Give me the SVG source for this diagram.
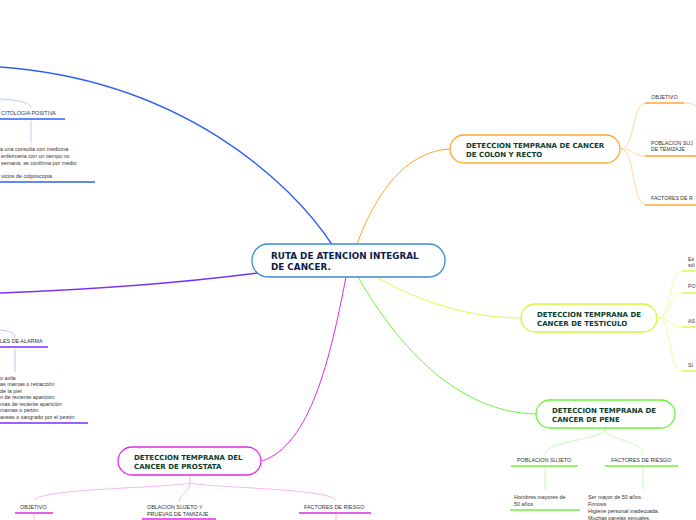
<svg xmlns="http://www.w3.org/2000/svg" width="696" height="520" viewBox="0 0 696 520">
<style>
.t{font-family:"Liberation Sans",Arial,sans-serif;font-size:5.4px;fill:#333}
.e{font-family:"Liberation Sans",Arial,sans-serif;font-size:5.2px;fill:#333}
.n{font-family:"DejaVu Sans",Verdana,sans-serif;font-size:7px;font-weight:bold;fill:#0b3d2c}
.c{font-family:"DejaVu Sans",Verdana,sans-serif;font-size:8.8px;font-weight:bold;fill:#0c1b4d}
.box{fill:#fff;stroke-width:1.3}
.l{fill:none}
</style>
<g id="connectors">
<path class="l" d="M333 246 C290 180 180 80 0 67" stroke="#2f5ff5" stroke-width="1.4"/>
<path class="l" d="M258 273 C180 283 80 290 0 293" stroke="#7a2ff5" stroke-width="1.4"/>
<path class="l" d="M357 244 C375 195 405 151 450 149" stroke="#ffa630" stroke-width="1"/>
<path class="l" d="M376 277 C420 302 470 318 521 318" stroke="#e4f84a" stroke-width="1"/>
<path class="l" d="M358 277 C400 350 460 413 537 414" stroke="#6ef23c" stroke-width="1"/>
<path class="l" d="M346 277 C330 360 310 445 262 461" stroke="#e229e8" stroke-width="1"/>
<g stroke="#ffcd85" stroke-width="0.8" fill="none">
<path d="M621 149 C635 149 632 103 646 103"/>
<path d="M621 149 C635 149 632 156 646 156"/>
<path d="M621 149 C635 149 632 205 646 205"/>
<path d="M684 103 C690 103 692 104 696 106"/>
</g>
<g stroke="#ffa630" stroke-width="1.3">
<line x1="645" y1="103" x2="684" y2="103"/>
<line x1="645" y1="156" x2="696" y2="156"/>
<line x1="645" y1="205" x2="696" y2="205"/>
</g>
<g stroke="#ecfb8a" stroke-width="0.8" fill="none">
<path d="M658 318 C672 318 668 271 682 271"/>
<path d="M658 318 C672 318 668 293 682 293"/>
<path d="M658 318 C672 318 668 327 682 327"/>
<path d="M658 318 C672 318 668 371 682 371"/>
</g>
<g stroke="#d6f53a" stroke-width="1.3">
<line x1="682" y1="271" x2="696" y2="271"/>
<line x1="682" y1="293" x2="696" y2="293"/>
<line x1="682" y1="327" x2="696" y2="327"/>
<line x1="682" y1="371" x2="696" y2="371"/>
</g>
<g stroke="#b6f7a0" stroke-width="0.8" fill="none">
<path d="M605 429 C605 440 545 440 545 455"/>
<path d="M605 429 C605 440 643 440 643 455"/>
<line x1="545" y1="467" x2="545" y2="490"/>
<line x1="643" y1="467" x2="643" y2="490"/>
</g>
<g stroke="#6ef23c" stroke-width="1.3">
<line x1="511" y1="466" x2="578" y2="466"/>
<line x1="605" y1="466" x2="678" y2="466"/>
<line x1="510" y1="510" x2="580" y2="510"/>
</g>
<g stroke="#f2a4f2" stroke-width="0.8" fill="none">
<path d="M190 476 L190 483 C170 488 45 488 34 500"/>
<path d="M190 483 C190 492 180 493 179 502"/>
<path d="M190 483 C210 488 325 488 336 500"/>
<line x1="34" y1="514" x2="34" y2="520"/>
<line x1="336" y1="514" x2="336" y2="520"/>
</g>
<g stroke="#e229e8" stroke-width="1.3">
<line x1="15" y1="513" x2="53" y2="513"/>
<line x1="142" y1="519" x2="216" y2="519"/>
<line x1="299" y1="513" x2="371" y2="513"/>
</g>
<g stroke="#a9bdf7" stroke-width="0.8" fill="none">
<path d="M31 108 C31 102 15 100 0 99"/>
<line x1="31" y1="121" x2="31" y2="143"/>
</g>
<g stroke="#2f5ff5" stroke-width="1.3">
<line x1="0" y1="119" x2="65" y2="119"/>
<line x1="0" y1="182" x2="95" y2="182"/>
</g>
<g stroke="#c6a6f7" stroke-width="0.8" fill="none">
<path d="M15 338 C15 332 8 331 0 330"/>
<line x1="15" y1="349" x2="15" y2="372"/>
</g>
<g stroke="#7a2ff5" stroke-width="1.3">
<line x1="0" y1="347" x2="48" y2="347"/>
<line x1="0" y1="423" x2="88" y2="423"/>
</g>
</g>
<g id="center">
<rect class="box" x="252" y="244" width="193" height="33" rx="16" stroke="#3a8ad8"/>
<text class="c" x="271" y="259">RUTA DE ATENCION INTEGRAL</text>
<text class="c" x="271" y="270">DE CANCER.</text>
</g>
<g id="colon">
<rect class="box" x="450" y="135" width="170" height="28" rx="14" stroke="#ffa630"/>
<text class="n" x="466" y="148">DETECCION TEMPRANA DE CANCER</text>
<text class="n" x="466" y="157">DE COLON Y RECTO</text>
</g>
<g id="colon-objetivo"><text class="t" x="651" y="99">OBJETIVO</text></g>
<g id="colon-poblacion"><text class="e" x="651" y="145">POBLACION SUJ</text><text class="e" x="651" y="151">DE TEMIZAJE</text></g>
<g id="colon-factores"><text class="e" x="651" y="200">FACTORES DE R</text></g>
<g id="testiculo">
<rect class="box" x="521" y="304" width="136" height="28" rx="14" stroke="#d6f53a"/>
<text class="n" x="537" y="317">DETECCION TEMPRANA DE</text>
<text class="n" x="537" y="326">CANCER DE TESTICULO</text>
</g>
<g id="test-1"><text class="e" x="688" y="261">Es</text><text class="e" x="688" y="267">sól</text></g>
<g id="test-2"><text class="e" x="688" y="288">PO</text></g>
<g id="test-3"><text class="e" x="688" y="323">AS</text></g>
<g id="test-4"><text class="e" x="688" y="367">SI</text></g>
<g id="pene">
<rect class="box" x="536" y="400" width="139" height="28" rx="14" stroke="#6ef23c"/>
<text class="n" x="552" y="413">DETECCION TEMPRANA DE</text>
<text class="n" x="552" y="422">CANCER DE PENE</text>
</g>
<g id="pene-poblacion"><text class="t" x="517" y="462">POBLACION SUJETO</text></g>
<g id="pene-factores"><text class="t" x="611" y="462">FACTORES DE RIESGO</text></g>
<g id="pene-hombres"><text class="t" x="514" y="499">Hombres mayores de</text><text class="t" x="514" y="506">50 años</text></g>
<g id="pene-riesgo">
<text class="t" x="588" y="499">Ser mayor de 50 años.</text>
<text class="t" x="588" y="506">Fimosis</text>
<text class="t" x="588" y="513">Higiene personal inadecuada.</text>
<text class="t" x="588" y="519.5">Muchas parejas sexuales.</text>
</g>
<g id="prostata">
<rect class="box" x="118" y="447" width="143" height="28" rx="14" stroke="#e229e8"/>
<text class="n" x="134" y="460">DETECCION TEMPRANA DEL</text>
<text class="n" x="134" y="469">CANCER DE PROSTATA</text>
</g>
<g id="pros-objetivo"><text class="t" x="20" y="509">OBJETIVO</text></g>
<g id="pros-poblacion"><text class="t" x="147" y="509">OBLACION SUJETO Y</text><text class="t" x="147" y="516">PRUEVAS DE TAMIZAJE</text></g>
<g id="pros-factores"><text class="t" x="304" y="509">FACTORES DE RIESGO</text></g>
<g id="citologia"><text class="t" x="1" y="115">CITOLOGIA POSITIVA</text></g>
<g id="citologia-texto">
<text class="t" x="0" y="151">a una consulta con medicina</text>
<text class="t" x="1" y="158">enfermeria con un tiempo no</text>
<text class="t" x="1" y="165"> semana, se confirma por medio</text>
<text class="t" x="1" y="178">vicios de colposcopia</text>
</g>
<g id="alarma"><text class="t" x="0" y="343">LES DE ALARMA</text></g>
<g id="alarma-texto">
<text class="t" x="0" y="380">o axila</text>
<text class="t" x="0" y="386">as mamas o retracción</text>
<text class="t" x="0" y="393">de la piel</text>
<text class="t" x="0" y="399">n de reciente aparición</text>
<text class="t" x="0" y="406"> mas de reciente aparición</text>
<text class="t" x="0" y="412">mamas o pezón</text>
<text class="t" x="0" y="419">aneas o sangrado por el pezón</text>
</g>
</svg>
